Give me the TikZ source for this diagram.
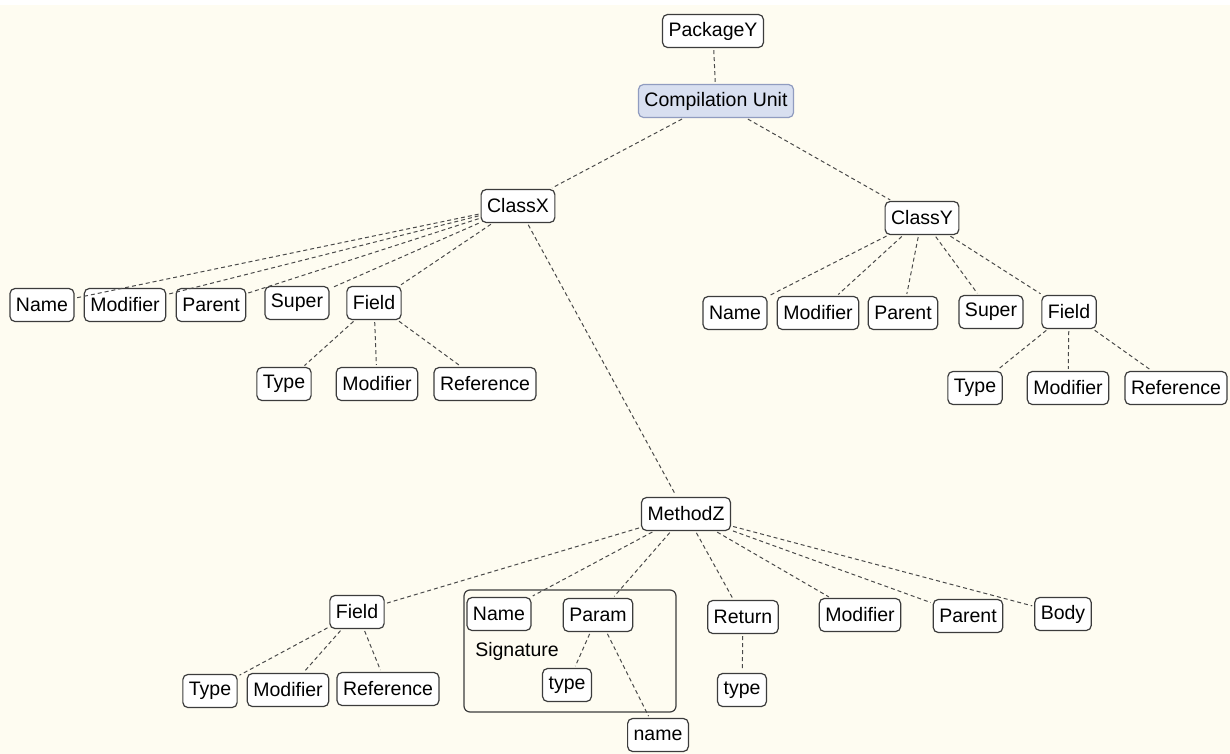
\documentclass[tikz,border=0pt]{standalone}
\usepackage{fontspec}
\setmainfont{Liberation Sans}
\begin{document}
\definecolor{paper}{HTML}{FEFCF1}
\definecolor{boxline}{HTML}{3C3C3C}
\definecolor{edgeline}{HTML}{4A4A4A}
\definecolor{unitfill}{HTML}{D8DFF0}
\definecolor{unitline}{HTML}{909CC0}
\begin{tikzpicture}[x=1pt,y=-1pt,
  every node/.style={font=\fontsize{19.5}{23}\selectfont},
  elem/.style={draw=boxline, line width=1.2pt, rounded corners=5pt, fill=white,
    minimum height=33pt, inner xsep=6pt, inner ysep=2pt},
  unit/.style={elem, draw=unitline, fill=unitfill},
  group/.style={draw=boxline, line width=1.2pt, rounded corners=6pt, fill=none},
  link/.style={draw=edgeline, line width=1pt, dash pattern=on 4pt off 3pt,
    shorten <=2pt, shorten >=2pt}]
\useasboundingbox (0,0) rectangle (1230,754);
\fill[paper] (0,0) rectangle (1230,754);
\fill[white] (0,0) rectangle (1230,5);

% top of the tree
\node[elem] (pkg) at (713,31) {PackageY};
\node[unit] (cu) at (716,101) {Compilation Unit};
\node[elem] (cx) at (518,206) {ClassX};
\node[elem] (cy) at (922,218) {ClassY};

% members of ClassX
\node[elem] (xname) at (42,305) {Name};
\node[elem] (xmod) at (125,305) {Modifier};
\node[elem] (xpar) at (211,305) {Parent};
\node[elem] (xsup) at (297,303) {Super};
\node[elem] (xfld) at (374,303) {Field};
\node[elem] (xftype) at (284,384) {Type};
\node[elem] (xfmod) at (377,384) {Modifier};
\node[elem] (xfref) at (485,384) {Reference};

% members of ClassY
\node[elem] (yname) at (735,313) {Name};
\node[elem] (ymod) at (818,313) {Modifier};
\node[elem] (ypar) at (903,313) {Parent};
\node[elem] (ysup) at (991,312) {Super};
\node[elem] (yfld) at (1069,312) {Field};
\node[elem] (yftype) at (975,388) {Type};
\node[elem] (yfmod) at (1068,388) {Modifier};
\node[elem] (yfref) at (1176,388) {Reference};

% MethodZ and its parts
\node[elem] (mz) at (686,514) {MethodZ};
\node[elem] (mfld) at (357,612) {Field};
\node[elem] (mftype) at (210,691) {Type};
\node[elem] (mfmod) at (288,690) {Modifier};
\node[elem] (mfref) at (388,689) {Reference};

\node[group, minimum width=212pt, minimum height=122pt] (sig) at (570,651) {};
\node (siglabel) at (517,651) {Signature};
\node[elem] (sname) at (499,614) {Name};
\node[elem] (sparam) at (598,615) {Param};
\node[elem] (stype) at (567,685) {type};
\node[elem] (pname) at (658,735) {name};

\node[elem] (mret) at (743,617) {Return};
\node[elem] (mrtype) at (742,690) {type};
\node[elem] (mmod) at (860,615) {Modifier};
\node[elem] (mpar) at (968,616) {Parent};
\node[elem] (mbody) at (1063,614) {Body};

% connectors
\draw[link] (pkg) -- (cu);
\draw[link] (cu) -- (cx);
\draw[link] (cu) -- (cy);

\foreach \n in {xname,xmod,xpar,xsup,xfld} \draw[link] (cx) -- (\n);
\foreach \n in {xftype,xfmod,xfref} \draw[link] (xfld) -- (\n);
\draw[link] (cx) -- (mz);

\foreach \n in {yname,ymod,ypar,ysup,yfld} \draw[link] (cy) -- (\n);
\foreach \n in {yftype,yfmod,yfref} \draw[link] (yfld) -- (\n);

\foreach \n in {mfld,sname,sparam,mret,mmod,mpar,mbody} \draw[link] (mz) -- (\n);
\foreach \n in {mftype,mfmod,mfref} \draw[link] (mfld) -- (\n);
\draw[link] (sparam) -- (stype);
\draw[link] (sparam) -- (pname);
\draw[link] (mret) -- (mrtype);
\end{tikzpicture}
\end{document}
